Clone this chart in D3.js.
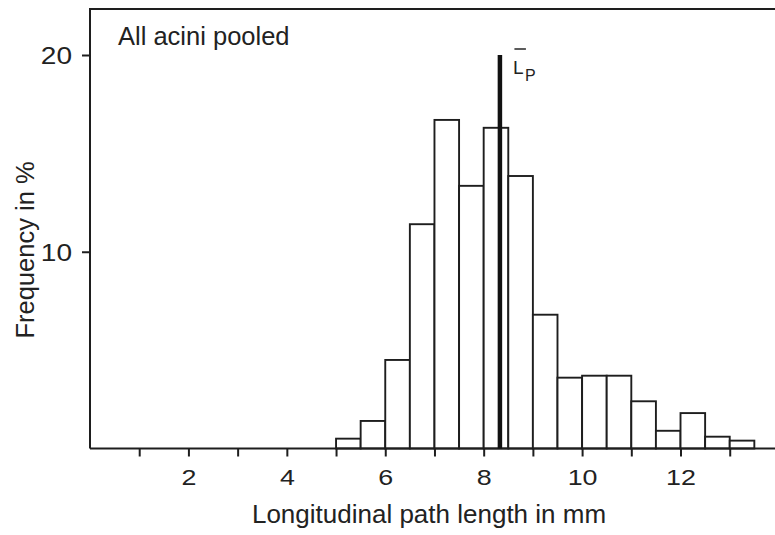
<!DOCTYPE html>
<html>
<head>
<meta charset="utf-8">
<script src="https://cdn.jsdelivr.net/npm/d3@7/dist/d3.min.js"></script>
<style>
  html, body { margin: 0; padding: 0; background: #fff; }
  svg text { font-family: "Liberation Sans", Arial, Helvetica, sans-serif; fill: #222; }
</style>
</head>
<body>
<svg id="chart" width="775" height="535"></svg>
<script>
// Histogram bins: lower edge of each 0.5 mm class and its share in %
const binStarts = [5.0, 5.5, 6.0, 6.5, 7.0, 7.5, 8.0, 8.5, 9.0, 9.5, 10.0, 10.5, 11.0, 11.5, 12.0, 12.5, 13.0];
const frequencies = [0.5, 1.4, 4.5, 11.4, 16.7, 13.35, 16.3, 13.85, 6.8, 3.6, 3.7, 3.7, 2.4, 0.9, 1.8, 0.6, 0.4];
const binWidth = 0.5;
const meanPath = 8.33;          // mean longitudinal path length
const xTickValues = [1, 2, 3, 4, 5, 6, 7, 8, 9, 10, 11, 12, 13];
const xTickLabels = ["", "2", "", "4", "", "6", "", "8", "", "10", "", "12", ""];
const yTickValues = [10, 20];

const svg = d3.select("#chart");
const margin = { left: 90, top: 9, bottom: 448.5 };

const x = d3.scaleLinear().domain([0, 13.92]).range([margin.left, 775]);
const y = d3.scaleLinear().domain([0, 20]).range([margin.bottom, 55]);

const ink = "#1e1e1e";
const digitStretch = 1.22;   // tick numerals are set slightly wide

// frame (top and left edges)
svg.append("path")
  .attr("d", `M${x(0)},${margin.bottom} V${margin.top} H780`)
  .attr("fill", "none").attr("stroke", ink).attr("stroke-width", 2);

// bars
svg.append("g").selectAll("rect")
  .data(binStarts.map((s, i) => ({ s, f: frequencies[i] })))
  .join("rect")
  .attr("x", d => x(d.s))
  .attr("width", d => x(d.s + binWidth) - x(d.s))
  .attr("y", d => y(d.f))
  .attr("height", d => y(0) - y(d.f))
  .attr("fill", "#fff")
  .attr("stroke", ink)
  .attr("stroke-width", 1.9);

// x axis
const xAxis = d3.axisBottom(x)
  .tickValues(xTickValues)
  .tickFormat((d, i) => xTickLabels[i])
  .tickSize(8);
const gx = svg.append("g").attr("transform", `translate(0,${margin.bottom})`).call(xAxis);
gx.select(".domain").attr("d", `M${x(0)},0 H780`).attr("stroke", ink).attr("stroke-width", 2);
gx.selectAll(".tick line").attr("stroke", ink).attr("stroke-width", 2);
gx.selectAll(".tick text")
  .attr("font-size", 22).attr("fill", "#222")
  .attr("y", 36.5).attr("dy", 0)
  .attr("transform", `scale(${digitStretch},1)`);

// y axis
const yAxis = d3.axisLeft(y)
  .tickValues(yTickValues)
  .tickSize(8);
const gy = svg.append("g").attr("transform", `translate(${x(0)},0)`).call(yAxis);
gy.select(".domain").remove();
gy.selectAll(".tick line").attr("stroke", ink).attr("stroke-width", 2);
gy.selectAll(".tick text")
  .attr("font-size", 23).attr("fill", "#222")
  .attr("x", -18 / digitStretch).attr("dy", "0.36em")
  .attr("transform", `scale(${digitStretch},1)`);

// mean line
svg.append("line")
  .attr("x1", x(meanPath)).attr("x2", x(meanPath))
  .attr("y1", y(0)).attr("y2", y(20))
  .attr("stroke", "#111").attr("stroke-width", 4.5);

// mean label: L with overbar, subscript P
const lx = x(meanPath) + 13;
svg.append("text").attr("x", lx).attr("y", 74).attr("font-size", 19).text("L");
svg.append("text").attr("x", lx + 12).attr("y", 81).attr("font-size", 16).text("P");
svg.append("line")
  .attr("x1", lx + 1.5).attr("x2", lx + 13)
  .attr("y1", 49).attr("y2", 49)
  .attr("stroke", "#333").attr("stroke-width", 1.6);

// panel title
svg.append("text").attr("x", 118).attr("y", 45).attr("font-size", 25.5).text("All acini pooled");

// axis titles
svg.append("text")
  .attr("x", 429).attr("y", 523)
  .attr("text-anchor", "middle").attr("font-size", 26)
  .text("Longitudinal path length in mm");

svg.append("text")
  .attr("transform", "translate(34,250) rotate(-90)")
  .attr("text-anchor", "middle").attr("font-size", 25.5)
  .text("Frequency in %");
</script>
</body>
</html>
